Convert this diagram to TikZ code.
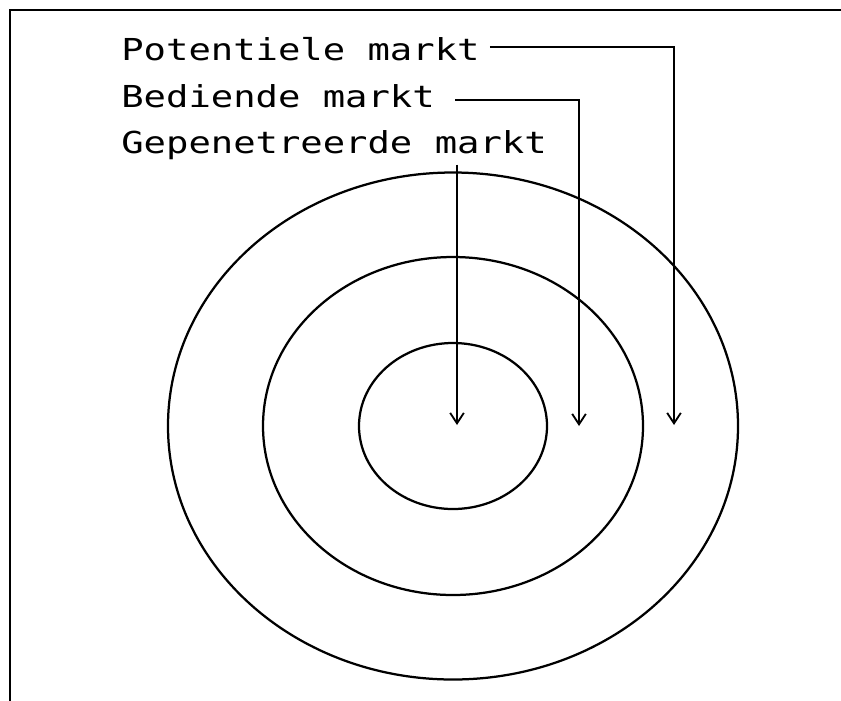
\documentclass[tikz,border=0pt]{standalone}
\usepackage{fontspec}
\newfontfamily\plotfont{DejaVu Sans Mono}
\usetikzlibrary{arrows.meta,calc}

\begin{document}
\begin{tikzpicture}[x=0.025cm,y=-0.025cm,
    rand/.style={line width=2pt},
    ring/.style={line width=1.6pt},
    pijl/.style={line width=1.3pt,-{Straight Barb[length=2.6mm,width=3.4mm]}},
    markt/.style={anchor=base west,inner sep=0pt,xscale=1.23,font=\plotfont\fontsize{21.5}{24}\selectfont}]
    \path[use as bounding box,clip] (0,0) rectangle (841,700);
    \draw[rand] (10,720) -- (10,10) -- (860,10);
    % cirkels
    \coordinate (midden) at (453,426);
    \foreach \rx/\ry in {285/253.5,190/169,94/83} \draw[ring] (midden) ellipse [x radius=\rx,y radius=\ry];
    % teksten
    \node[markt] (pot) at (121,60) {Potentiele markt};
    \node[markt] (bed) at (121,107) {Bediende markt};
    \node[markt] (gep) at (121,153) {Gepenetreerde markt};
    \coordinate (potpunt) at (674,425);
    \coordinate (bedpunt) at (579,426);
    \coordinate (geppunt) at (457,425);
    \draw[pijl] ($(pot.base east)+(10,-13)$) -| (potpunt);
    \draw[pijl] ($(bed.base east)+(20,-7)$) -| (bedpunt);
    \draw[pijl] ($(gep.south -| geppunt)+(0,5)$) -- (geppunt);
\end{tikzpicture}
\end{document}
